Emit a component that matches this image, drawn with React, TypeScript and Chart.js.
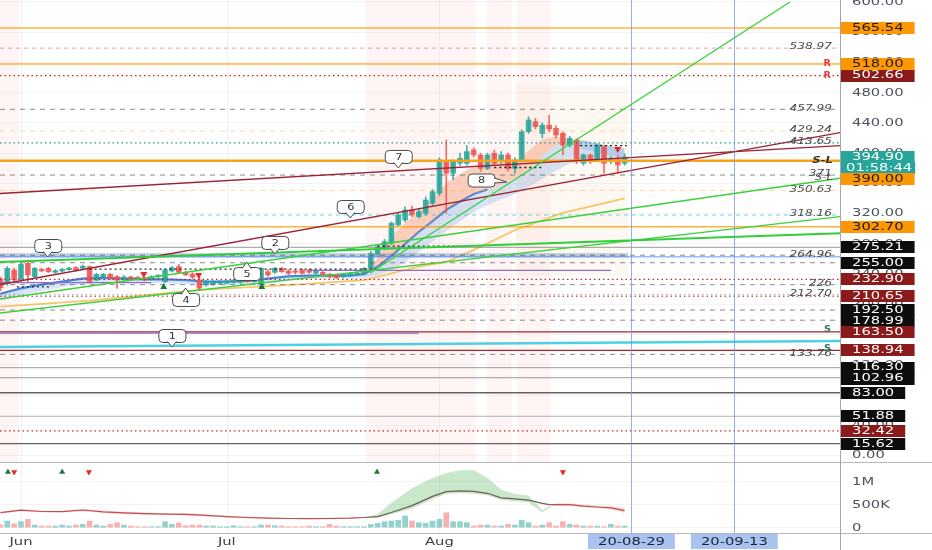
import React, { useEffect, useRef } from "react";
import { Chart, registerables } from "chart.js";

Chart.register(...registerables);

/* ===================== DATA ===================== */
// day index: 0 = 1 Jun; first candle sits at firstDay
const firstDay = -3;
const opens = [234, 228, 245.4, 233.5, 254.2, 236.6, 246.3, 247.6, 242.3, 244, 245.8, 248.5, 247.6, 249.8, 232.2, 236.6, 239.7, 236.6, 233.5, 236.2, 235.7, 235.3, 233.5, 236.6, 230, 244, 249.8, 242, 240, 232.2, 225.6, 226.5, 227.8, 227.8, 229.1, 229.1, 232.2, 230, 225.6, 243.2, 242.3, 247.6, 244.1, 244.1, 245.4, 245.4, 241, 242.3, 239.7, 238.8, 236.6, 237.9, 238.8, 239.7, 247.6, 265.3, 274, 280.7, 305, 311.6, 324.8, 316, 320.4, 333.6, 346.9, 388.8, 373.4, 386.6, 386.6, 404.2, 397.6, 379.9, 399.8, 388.8, 397.6, 379.9, 391, 428.4, 441.7, 426, 437, 432.8, 426.2, 410.7, 417.4, 386.6, 397.6, 391, 408.5, 388.8, 393.2, 386.6];
const highs = [236, 250, 248, 255, 256, 249, 248, 249, 246, 248, 249, 250, 252, 251, 241, 241, 241, 238, 238, 237, 237, 236, 238, 239, 247, 250, 253, 244, 242, 236.6, 232, 231, 231.5, 232, 233, 234, 233, 236, 249, 246, 249, 249, 246, 245, 247, 246, 245, 243.5, 241, 240, 241, 242, 243, 249, 270, 279, 286, 309, 321, 329, 330, 326, 342, 352, 394, 417.4, 391, 400, 410, 407, 400, 400, 404, 402, 400, 394, 431, 448, 446, 440, 450, 436, 428, 422, 419, 399, 399, 412, 410, 396, 397, 399];
const lows = [218, 225, 230, 231, 230, 235, 243, 242, 241, 243, 245, 244, 246, 228, 231, 235, 233, 221, 232, 233, 232, 231, 232, 235, 229, 243, 241, 238, 234, 219, 224, 225, 226, 227, 228, 228, 229, 229, 224, 237, 241, 242, 239, 240, 240, 241, 240, 238, 235, 234, 235, 237, 238, 239, 246, 263, 272, 279, 303, 309, 316, 314, 318, 331, 344, 320.4, 365, 383, 384, 395, 376, 378, 384, 386, 376, 373, 389, 426, 432, 420, 428, 420, 397.6, 408, 386, 384, 386, 389, 373.4, 386, 373.4, 384];
const closes = [222, 247.6, 232.2, 252.9, 238.8, 247.6, 244.1, 243.2, 244.5, 246.3, 248, 245, 250.2, 230, 239.7, 239.7, 234.4, 232.2, 236.2, 234.4, 233, 232.2, 236.6, 237.9, 245.4, 248.5, 242.3, 239, 236, 221.2, 230, 230, 230, 230.9, 232.2, 232.2, 230, 234.4, 247.6, 238.8, 247.6, 243.2, 241, 242.3, 241, 242.3, 244.1, 239.7, 236.6, 235.3, 239.7, 241, 241, 247.6, 267.5, 276.2, 282.9, 307.2, 318.2, 324.8, 318.2, 322.6, 338, 349.1, 391, 373.4, 388.8, 393.2, 402, 397.6, 379.9, 397.6, 386.6, 397.6, 379.9, 391, 428.4, 443.9, 435, 437, 432, 424, 410.7, 419.6, 388.8, 397.6, 388.8, 410.7, 386.6, 393.2, 384.4, 394.9];
// volume, in thousands
const volumesK = [60, 145, 87, 130, 181, 58, 36, 36, 36, 58, 36, 58, 72, 145, 58, 36, 72, 109, 58, 36, 22, 22, 22, 22, 130, 72, 101, 43, 58, 58, 36, 36, 22, 22, 43, 22, 22, 22, 58, 58, 43, 36, 22, 22, 22, 36, 22, 22, 72, 36, 22, 22, 22, 22, 72, 94, 130, 145, 159, 254, 145, 109, 94, 145, 181, 326, 130, 130, 109, 36, 58, 58, 36, 36, 72, 58, 159, 109, 36, 58, 109, 36, 130, 72, 58, 36, 36, 36, 22, 72, 36, 36];

// moving-average ribbons (price pane)
const emaDays = [-3, 0, 3, 6, 9, 12, 15, 18, 21, 24, 27, 30, 33, 36, 39, 42, 45, 48, 50, 52, 54, 56, 58, 60, 62, 64, 66, 68, 70, 72, 74, 76, 78, 80, 82, 84, 86, 88];
const emaMid = [214, 221, 226, 230, 234, 235, 234, 233, 233, 232, 230, 230, 231, 234, 237, 238, 238, 238, 240, 250, 264, 280, 296, 310, 325, 336, 346, 352, 358, 366, 378, 398, 410, 416, 417, 413, 409, 406];
const emaSlow = [205, 212, 218, 223, 227, 229, 229, 228, 228, 227, 226, 226, 226, 228, 231, 233, 234, 234, 235, 238, 245, 256, 270, 283, 297, 310, 322, 331, 339, 346, 355, 366, 377, 386, 390, 392, 393, 393];
const emaFastDays = [48, 50, 52, 54, 56, 58, 60, 62, 64, 66, 68, 70, 72, 74, 76, 78, 80, 82, 84, 86, 88];
const emaFast = [239, 244, 262, 290, 308, 322, 340, 360, 372, 382, 386, 388, 388, 403, 418, 422, 417, 405, 401, 397, 394];
const slowMaDays = [-3, 10, 26, 40, 50, 58, 62, 66, 72, 79, 88];
const slowMa = [197, 205, 219, 226, 232, 250, 256, 272, 298, 321, 340];

// volume pane cloud and average (thousands)
const volCloudDays = [-3, 0, 3, 6, 9, 12, 15, 18, 21, 24, 27, 30, 33, 36, 39, 42, 45, 48, 50, 52, 54, 57, 60, 62, 64, 66, 68, 70, 72, 74, 76, 77, 78, 80, 82, 84, 86, 88];
const volFastK = [305, 355, 335, 335, 360, 320, 295, 280, 275, 265, 250, 222, 207, 196, 188, 186, 188, 195, 218, 290, 540, 860, 1080, 1190, 1250, 1250, 1080, 830, 730, 700, 377, 470, 470, 470, 445, 425, 400, 320];
const volSlowK = [345, 400, 370, 365, 410, 370, 350, 330, 315, 318, 292, 262, 238, 220, 212, 210, 214, 222, 226, 215, 290, 420, 620, 730, 750, 740, 700, 600, 575, 550, 330, 430, 530, 530, 500, 475, 470, 430];
const volAvgK = [327, 380, 352, 350, 385, 345, 322, 305, 295, 290, 270, 242, 222, 208, 200, 198, 200, 208, 222, 240, 330, 480, 680, 785, 800, 790, 748, 650, 625, 600, 530, 500, 500, 500, 470, 450, 430, 370];

// axes
const priceTicks = [0, 40, 80, 120, 160, 200, 240, 280, 320, 360, 400, 440, 480, 520, 560, 600];
const volumeTicks = [0, 500000, 1000000];
const volumeTickLabels = ["0", "500K", "1M"];
const monthTickDays = [0, 30, 61];
const monthTickLabels = ["Jun", "Jul", "Aug"];
const dateLineDays = [89, 104];
const dateLineLabels = ["20-08-29", "20-09-13"];

// right-axis price labels
const axisLabelValues = [565.54, 518.0, 502.66, 394.9, 390.0, 302.7, 275.21, 255.0, 232.9, 210.65, 192.5, 178.99, 163.5, 138.94, 116.3, 102.96, 83.0, 51.88, 32.42, 15.62];
const axisLabelKinds = ["orange", "orange", "darkred", "teal", "orange", "orange", "black", "black", "darkred", "darkred", "black", "black", "darkred", "darkred", "black", "black", "black", "black", "darkred", "black"];
const currentPrice = 394.9;
const countdownText = "01:58:44";

// horizontal levels
const levelValues = [565.54, 538.97, 518.0, 502.66, 457.99, 429.24, 413.65, 390.0, 371, 350.63, 318.16, 302.7, 275.21, 263, 264.96, 255.0, 232.9, 226, 212.7, 210.65, 192.5, 178.99, 163.5, 138.94, 133.76, 116.3, 102.96, 83.0, 51.88, 32.42, 15.62];
const levelStyleKeys = ["orange", "pinkDash", "orange", "redDot", "greyDash", "orangeDash", "tealDot", "orangeThick", "greyDash", "orangeDash", "cyanDash", "orange", "greySolid", "blueSolid", "greyDash", "greyDash", "redDot", "greyDash", "greyDot", "redDot", "greyDash", "greyDash", "darkRed", "darkRed", "greyDash", "greySolid", "greySolid", "darkGrey", "greySolid", "redDot", "darkGrey"];
const bandLevel = 264.96;
const bandDays = [-3.06, 88.5];

// italic level notes
const noteValues = [538.97, 457.99, 429.24, 413.65, 371, 350.63, 318.16, 264.96, 226, 212.7, 133.76];
const noteTexts = ["538.97", "457.99", "429.24", "413.65", "371", "350.63", "318.16", "264.96", "226", "212.70", "133.76"];
const rTagValues = [518.0, 502.66];
const slTagValues = [390.0, 371];
const sTagValues = [163.5, 138.94];

// trend lines: [day1, price1, day2, price2]
const trendLines = [
  [-3.06, 346.5, 119.4, 409.9],
  [-3.06, 226.1, 119.4, 427.1],
  [50.9, 241.4, 112.1, 600],
  [-3.06, 207.0, 119.4, 366.7],
  [-3.06, 188.5, 119.4, 316.0],
  [-3.06, 256.0, 119.4, 294.0],
  [-3.06, 143.5, 119.4, 151.5],
];
const trendStyleKeys = ["maroon", "maroon", "green", "green", "green", "greenThick", "cyan"];

// short horizontal segments: [day1, day2, price]
const segments = [
  [-3.06, 58, 162],
  [-3.06, 19, 228.6],
  [42, 86, 245],
  [10, 52, 246.5],
  [-0.6, 4.2, 223],
  [52, 64, 277],
  [69, 76, 381],
  [81.5, 88.3, 410],
];
const segmentStyleKeys = ["purple", "purple", "purple", "blackDot", "blackDot", "blackDot", "blackDot", "blackDot"];

// signal markers
const priceDownDays = [17.9, 25.9, 87.0];
const priceDownValues = [240.1, 238.8, 405.5];
const priceUpDays = [20.8, 35.1];
const priceUpValues = [222.9, 222.9];
const volUpDays = [-1.9, 6.0, 51.9];
const volDownDays = [-1.0, 9.9, 79.0];
const volMarkerLevel = 1210000;

// callouts
const calloutTexts = ["1", "2", "3", "4", "5", "6", "7", "8"];
const calloutDays = [22.0, 37.0, 3.9, 24.0, 32.9, 48.0, 55.0, 70.8];
const calloutPrices = [143.5, 266.6, 262.6, 221.6, 256.0, 314.2, 380.4, 361.8];
const calloutPointer = ["down", "down", "down", "up", "up", "down", "down", "right"];

// shaded sessions
const shadeBands = [[-3.06, -0.3], [50.3, 66.3], [67.9, 71.5], [72.3, 77.2]];
const beigeDays = [72, 88.6];
const beigePrices = [240, 489];

/* ===================== STYLE ===================== */
const X_MIN = -3.06;
const X_MAX = 119.4;
const Y_MIN = -8.63;
const Y_MAX = 602.6;
const V_MIN = -115000;
const V_MAX = 1428000;
const AXIS_W = 92;
const FONT = "'DejaVu Sans', sans-serif";
const SX = 1.34;
const UP = "rgba(38,166,154,0.85)";
const DOWN = "rgba(239,83,80,0.85)";

const lvlStyle: any = {
  orange: { c: "rgba(255,152,0,0.75)", w: 1.5, d: [] },
  orangeThick: { c: "#f5a31a", w: 2.6, d: [] },
  pinkDash: { c: "rgba(236,64,122,0.55)", w: 1, d: [4, 4] },
  redDot: { c: "#c62828", w: 1.2, d: [1.5, 3] },
  greyDash: { c: "rgba(90,90,90,0.7)", w: 1, d: [5, 5] },
  orangeDash: { c: "rgba(255,167,38,0.45)", w: 1, d: [5, 5] },
  tealDot: { c: "rgba(0,137,123,0.85)", w: 1.2, d: [1.5, 3] },
  cyanDash: { c: "rgba(0,188,212,0.6)", w: 1, d: [4, 4] },
  greySolid: { c: "rgba(120,120,120,0.6)", w: 1.2, d: [] },
  darkGrey: { c: "rgba(60,60,60,0.8)", w: 1.3, d: [] },
  blueSolid: { c: "rgba(66,133,244,0.55)", w: 1.5, d: [] },
  darkRed: { c: "#a4262c", w: 1.2, d: [] },
  greyDot: { c: "rgba(90,90,90,0.6)", w: 1, d: [1.5, 3] },
  maroon: { c: "#9b2335", w: 1.4, d: [] },
  green: { c: "#3ad13a", w: 1.4, d: [] },
  greenThick: { c: "#2fcf3a", w: 2, d: [] },
  cyan: { c: "#4dd0e1", w: 2.6, d: [] },
  purple: { c: "#8e6bbf", w: 1.2, d: [] },
  blackDot: { c: "#222", w: 1.3, d: [2, 3] },
};
const boxFill: any = { orange: "#ff9800", darkred: "#8b1a1a", black: "#0d0d0d", teal: "#26a69a" };
const boxText: any = { orange: "#1b1b1b", darkred: "#ffffff", black: "#ffffff", teal: "#ffffff" };

/* ===================== HELPERS ===================== */
const pts = (days: number[], vals: number[], k = 1) => days.map((d, i) => ({ x: d, y: vals[i] * k }));

function lineDs(data: any[], style: any, extra: any = {}) {
  return {
    type: "line",
    data,
    borderColor: style.c,
    borderWidth: style.w,
    borderDash: style.d,
    pointRadius: 0,
    tension: 0,
    fill: false,
    ...extra,
  };
}

function stretchText(ctx: any, text: string, x: number, y: number, font: string, color: string, align = "left", sx = SX) {
  ctx.save();
  ctx.font = font;
  ctx.fillStyle = color;
  ctx.textBaseline = "middle";
  ctx.textAlign = "left";
  const w = ctx.measureText(text).width * sx;
  let x0 = x;
  if (align === "right") x0 = x - w;
  else if (align === "center") x0 = x - w / 2;
  ctx.translate(x0, y);
  ctx.scale(sx, 1);
  ctx.fillText(text, 0, 0);
  ctx.restore();
  return w;
}

function measure(ctx: any, text: string, font: string, sx = SX) {
  ctx.save();
  ctx.font = font;
  const w = ctx.measureText(text).width * sx;
  ctx.restore();
  return w;
}

function drawCallout(ctx: any, tx: number, ty: number, label: string, side: string) {
  const w = 27, h = 13, pw = 4.5, ph = 5;
  let bx: number, by: number;
  if (side === "down") { bx = tx - w / 2; by = ty - ph - h; }
  else if (side === "up") { bx = tx - w / 2; by = ty + ph; }
  else { bx = tx - 12 - w; by = ty - h / 2 - 2; }
  ctx.save();
  ctx.lineWidth = 1;
  ctx.strokeStyle = "#4a4a4a";
  ctx.fillStyle = "#ffffff";
  ctx.beginPath();
  ctx.roundRect(bx + 0.5, by + 0.5, w, h, 4);
  ctx.fill();
  ctx.stroke();
  ctx.beginPath();
  if (side === "down") {
    ctx.moveTo(tx - pw, by + h - 0.5); ctx.lineTo(tx, ty); ctx.lineTo(tx + pw, by + h - 0.5);
  } else if (side === "up") {
    ctx.moveTo(tx - pw, by + 1.5); ctx.lineTo(tx, ty); ctx.lineTo(tx + pw, by + 1.5);
  } else {
    ctx.moveTo(bx + w - 0.5, by + h / 2 - 2); ctx.lineTo(tx, ty); ctx.lineTo(bx + w - 0.5, by + h / 2 + 3);
  }
  ctx.fill();
  ctx.stroke();
  ctx.restore();
  stretchText(ctx, label, bx + w / 2 + 0.5, by + h / 2 + 1, `9px ${FONT}`, "#333", "center", 1.25);
}

/* ===================== TOP PANE ===================== */
function buildTopConfig() {
  const datasets: any[] = [];
  const push = (ds: any) => { datasets.push(ds); return datasets.length - 1; };

  // ribbons
  const midIdx = push(lineDs(pts(emaDays, emaMid), { c: "#3d7ddb", w: 2.2, d: [] }, {
    segment: { borderColor: (c: any) => (c.p0.parsed.x >= 68 ? "rgba(0,0,0,0)" : "#3d7ddb") },
  }));
  push(lineDs(pts(emaDays, emaSlow), { c: "rgba(0,0,0,0)", w: 0, d: [] }, {
    fill: { target: midIdx, above: "rgba(120,170,230,0.3)", below: "rgba(120,170,230,0.3)" },
  }));
  push(lineDs(pts(emaFastDays, emaFast), { c: "rgba(0,0,0,0)", w: 0, d: [] }, {
    fill: { target: midIdx, above: "rgba(245,150,110,0.42)", below: "rgba(120,170,230,0.35)" },
  }));
  push(lineDs(pts(slowMaDays, slowMa), { c: "#f7c46c", w: 1.8, d: [] }));

  // candles
  const cx = opens.map((_, i) => firstDay + i);
  const colors = opens.map((o, i) => (closes[i] >= o ? UP : DOWN));
  push({
    type: "bar", grouped: false, barThickness: 1,
    data: cx.map((d, i) => ({ x: d, y: [lows[i], highs[i]] })),
    backgroundColor: colors, borderWidth: 0,
  });
  push({
    type: "bar", grouped: false, barThickness: 5, minBarLength: 1.5,
    data: cx.map((d, i) => ({ x: d, y: [opens[i], closes[i]] })),
    backgroundColor: colors, borderWidth: 0,
  });

  // horizontal levels
  push(lineDs([{ x: bandDays[0], y: bandLevel }, { x: bandDays[1], y: bandLevel }], { c: "rgba(110,155,200,0.5)", w: 4, d: [] }));
  levelValues.forEach((v, i) => {
    push(lineDs([{ x: X_MIN, y: v }, { x: X_MAX, y: v }], lvlStyle[levelStyleKeys[i]]));
  });
  segments.forEach((s, i) => {
    push(lineDs([{ x: s[0], y: s[2] }, { x: s[1], y: s[2] }], lvlStyle[segmentStyleKeys[i]]));
  });
  trendLines.forEach((t, i) => {
    push(lineDs([{ x: t[0], y: t[1] }, { x: t[2], y: t[3] }], lvlStyle[trendStyleKeys[i]]));
  });

  // markers
  push({
    type: "line", showLine: false, data: pts(priceDownDays, priceDownValues),
    pointStyle: "triangle", rotation: 180, pointRadius: 4, backgroundColor: "#e8262b", borderColor: "#e8262b", borderWidth: 0,
  });
  push({
    type: "line", showLine: false, data: pts(priceUpDays, priceUpValues),
    pointStyle: "triangle", pointRadius: 4, backgroundColor: "#1b7a2f", borderColor: "#1b7a2f", borderWidth: 0,
  });

  const N = datasets.length;
  datasets.forEach((d, i) => (d.order = N - i));

  const plugin = {
    id: "topDecor",
    beforeDatasetsDraw(chart: any) {
      const { ctx, chartArea: a, scales } = chart;
      const x = scales.x, y = scales.y;
      ctx.save();
      ctx.fillStyle = "rgba(255,82,82,0.06)";
      shadeBands.forEach((b) => {
        const x0 = x.getPixelForValue(b[0]), x1 = x.getPixelForValue(b[1]);
        ctx.fillRect(x0, a.top, x1 - x0, a.bottom - a.top);
      });
      ctx.fillStyle = "rgba(245,225,195,0.22)";
      const bx0 = x.getPixelForValue(beigeDays[0]), bx1 = x.getPixelForValue(beigeDays[1]);
      const by0 = y.getPixelForValue(beigePrices[1]), by1 = y.getPixelForValue(beigePrices[0]);
      ctx.fillRect(bx0, by0, bx1 - bx0, by1 - by0);
      ctx.strokeStyle = "rgba(0,0,0,0.05)";
      ctx.lineWidth = 1;
      monthTickDays.forEach((d) => {
        const px = Math.round(x.getPixelForValue(d)) + 0.5;
        ctx.beginPath(); ctx.moveTo(px, a.top); ctx.lineTo(px, a.bottom); ctx.stroke();
      });
      ctx.restore();
    },
    afterDatasetsDraw(chart: any) {
      const { ctx, chartArea: a, scales } = chart;
      ctx.save();
      ctx.strokeStyle = "rgba(110,150,225,0.75)";
      ctx.lineWidth = 1;
      dateLineDays.forEach((d) => {
        const px = Math.round(scales.x.getPixelForValue(d)) + 0.5;
        ctx.beginPath(); ctx.moveTo(px, a.top); ctx.lineTo(px, a.bottom); ctx.stroke();
      });
      ctx.restore();
    },
    afterDraw(chart: any) {
      const { ctx, chartArea: a, scales } = chart;
      const x = scales.x, y = scales.y;
      const noteFont = `italic 9px ${FONT}`;
      noteValues.forEach((v, i) => {
        stretchText(ctx, noteTexts[i], 832, y.getPixelForValue(v) - 1, noteFont, "#4a4a4a", "right", 1.35);
      });
      rTagValues.forEach((v) => stretchText(ctx, "R", 831, y.getPixelForValue(v), `bold 8px ${FONT}`, "#e53935", "right", 1.2));
      stretchText(ctx, "S-L", 833, y.getPixelForValue(slTagValues[0]) - 0.5, `italic bold 9px ${FONT}`, "#333", "right", 1.3);
      stretchText(ctx, "S-L", 833, y.getPixelForValue(slTagValues[1]) + 3, `italic 9px ${FONT}`, "#4a4a4a", "right", 1.3);
      sTagValues.forEach((v) => stretchText(ctx, "S", 831, y.getPixelForValue(v) - 1.5, `bold 8px ${FONT}`, "#2e7d5b", "right", 1.2));
      calloutTexts.forEach((t, i) => {
        drawCallout(ctx, x.getPixelForValue(calloutDays[i]), y.getPixelForValue(calloutPrices[i]), t, calloutPointer[i]);
      });
      ctx.save();
      ctx.strokeStyle = "#a3a6ad";
      ctx.lineWidth = 1;
      ctx.beginPath(); ctx.moveTo(a.right + 0.5, 0); ctx.lineTo(a.right + 0.5, chart.height); ctx.stroke();
      ctx.restore();
      const tickFont = `11px ${FONT}`;
      priceTicks.forEach((v) => {
        stretchText(ctx, v.toFixed(2), a.right + 12, y.getPixelForValue(v), tickFont, "#4c525e", "left");
      });
      let prevBottom = -Infinity;
      const half = 5.5;
      const drawBox = (yc: number, text: string, kind: string, textX: number, padR: number) => {
        const tw = measure(ctx, text, tickFont);
        const left = a.right + 1;
        const right = textX + tw + padR;
        ctx.save();
        ctx.fillStyle = boxFill[kind];
        ctx.fillRect(left, Math.round(yc - 6), right - left, 12);
        ctx.restore();
        stretchText(ctx, text, textX, yc, tickFont, boxText[kind], "left");
      };
      axisLabelValues.forEach((v, i) => {
        let yc = y.getPixelForValue(v);
        if (yc - half < prevBottom) yc = prevBottom + half;
        drawBox(yc, v.toFixed(2), axisLabelKinds[i], a.right + 12, 11);
        prevBottom = yc + half;
        if (v === currentPrice) {
          const yc2 = prevBottom + half;
          drawBox(yc2, countdownText, "teal", a.right + 6, 3);
          prevBottom = yc2 + half;
        }
      });
    },
  };

  return {
    type: "bar",
    data: { datasets },
    plugins: [plugin],
    options: {
      responsive: true,
      maintainAspectRatio: false,
      animation: false,
      events: [],
      layout: { padding: 0, autoPadding: false },
      plugins: { legend: { display: false }, tooltip: { enabled: false } },
      scales: {
        x: { type: "linear", min: X_MIN, max: X_MAX, display: false, offset: false },
        y: {
          type: "linear", position: "right", min: Y_MIN, max: Y_MAX,
          afterBuildTicks: (s: any) => { s.ticks = priceTicks.map((v) => ({ value: v })); },
          afterFit: (s: any) => { s.width = AXIS_W; },
          ticks: { display: false },
          grid: { drawTicks: false, color: "rgba(42,46,57,0.05)" },
          border: { display: false },
        },
      },
    },
  };
}

/* ===================== VOLUME PANE ===================== */
function buildBottomConfig() {
  const datasets: any[] = [];
  const push = (ds: any) => { datasets.push(ds); return datasets.length - 1; };
  const slowIdx = push(lineDs(pts(volCloudDays, volSlowK, 1000), { c: "rgba(0,0,0,0)", w: 0, d: [] }));
  push(lineDs(pts(volCloudDays, volFastK, 1000), { c: "rgba(0,0,0,0)", w: 0, d: [] }, {
    fill: { target: slowIdx, above: "rgba(76,175,80,0.3)", below: "rgba(239,83,80,0.22)" },
  }));
  push(lineDs(pts(volCloudDays, volAvgK, 1000), { c: "#b9524e", w: 1.2, d: [] }, {
    segment: { borderColor: (c: any) => (c.p0.parsed.x >= 50 && c.p0.parsed.x < 77 ? "#6d6250" : "#c0504d") },
  }));
  const cx = opens.map((_, i) => firstDay + i);
  push({
    type: "bar", grouped: false, barThickness: 5,
    data: cx.map((d, i) => ({ x: d, y: volumesK[i] * 1000 })),
    backgroundColor: opens.map((o, i) => (closes[i] >= o ? "rgba(38,166,154,0.5)" : "rgba(239,83,80,0.45)")),
    borderWidth: 0,
  });
  push({
    type: "line", showLine: false, data: volUpDays.map((d) => ({ x: d, y: volMarkerLevel })),
    pointStyle: "triangle", pointRadius: 3.5, backgroundColor: "#1b7a2f", borderWidth: 0,
  });
  push({
    type: "line", showLine: false, data: volDownDays.map((d) => ({ x: d, y: volMarkerLevel })),
    pointStyle: "triangle", rotation: 180, pointRadius: 3.5, backgroundColor: "#e8262b", borderWidth: 0,
  });
  const N = datasets.length;
  datasets.forEach((d, i) => (d.order = N - i));

  const plugin = {
    id: "botDecor",
    beforeDatasetsDraw(chart: any) {
      const { ctx, chartArea: a, scales } = chart;
      ctx.save();
      ctx.strokeStyle = "rgba(0,0,0,0.05)";
      ctx.lineWidth = 1;
      monthTickDays.forEach((d) => {
        const px = Math.round(scales.x.getPixelForValue(d)) + 0.5;
        ctx.beginPath(); ctx.moveTo(px, a.top); ctx.lineTo(px, a.bottom); ctx.stroke();
      });
      ctx.restore();
    },
    afterDatasetsDraw(chart: any) {
      const { ctx, chartArea: a, scales } = chart;
      ctx.save();
      ctx.strokeStyle = "rgba(110,150,225,0.75)";
      ctx.lineWidth = 1;
      dateLineDays.forEach((d) => {
        const px = Math.round(scales.x.getPixelForValue(d)) + 0.5;
        ctx.beginPath(); ctx.moveTo(px, a.top); ctx.lineTo(px, a.bottom); ctx.stroke();
      });
      ctx.restore();
    },
    afterDraw(chart: any) {
      const { ctx, chartArea: a, scales } = chart;
      const x = scales.x, y = scales.y;
      const font = `11px ${FONT}`;
      ctx.save();
      ctx.strokeStyle = "#b4b7bd";
      ctx.lineWidth = 1;
      ctx.beginPath(); ctx.moveTo(0, 0.5); ctx.lineTo(chart.width, 0.5); ctx.stroke();
      ctx.beginPath(); ctx.moveTo(0, a.bottom + 0.5); ctx.lineTo(chart.width, a.bottom + 0.5); ctx.stroke();
      ctx.strokeStyle = "#a3a6ad";
      ctx.beginPath(); ctx.moveTo(a.right + 0.5, 0); ctx.lineTo(a.right + 0.5, chart.height); ctx.stroke();
      ctx.restore();
      volumeTicks.forEach((v, i) => {
        stretchText(ctx, volumeTickLabels[i], a.right + 12, y.getPixelForValue(v), font, "#4c525e", "left");
      });
      const ty = a.bottom + (chart.height - a.bottom) / 2 + 0.5;
      monthTickDays.forEach((d, i) => {
        stretchText(ctx, monthTickLabels[i], x.getPixelForValue(d), ty, font, "#3b3f47", "center");
      });
      dateLineDays.forEach((d, i) => {
        const px = x.getPixelForValue(d);
        const tw = measure(ctx, dateLineLabels[i], font);
        const bw = tw + 20;
        ctx.save();
        ctx.fillStyle = "#a9c3f0";
        ctx.fillRect(px - bw / 2, a.bottom + 1, bw, chart.height - a.bottom - 2);
        ctx.restore();
        stretchText(ctx, dateLineLabels[i], px, ty, font, "#1c2333", "center");
      });
    },
  };

  return {
    type: "bar",
    data: { datasets },
    plugins: [plugin],
    options: {
      responsive: true,
      maintainAspectRatio: false,
      animation: false,
      events: [],
      layout: { padding: { left: 0, right: 0, top: 0, bottom: 17 }, autoPadding: false },
      plugins: { legend: { display: false }, tooltip: { enabled: false } },
      scales: {
        x: { type: "linear", min: X_MIN, max: X_MAX, display: false, offset: false },
        y: {
          type: "linear", position: "right", min: V_MIN, max: V_MAX,
          afterBuildTicks: (s: any) => { s.ticks = volumeTicks.map((v) => ({ value: v })); },
          afterFit: (s: any) => { s.width = AXIS_W; },
          ticks: { display: false },
          grid: { drawTicks: false, color: "rgba(42,46,57,0.05)" },
          border: { display: false },
        },
      },
    },
  };
}

/* ===================== APP ===================== */
export default function App() {
  const topRef = useRef<HTMLCanvasElement>(null);
  const botRef = useRef<HTMLCanvasElement>(null);
  useEffect(() => {
    Chart.defaults.font.family = FONT;
    const top = new Chart(topRef.current as any, buildTopConfig() as any);
    const bot = new Chart(botRef.current as any, buildBottomConfig() as any);
    return () => {
      top.destroy();
      bot.destroy();
    };
  }, []);
  return (
    <div style={{ position: "fixed", left: 0, top: 0, width: 932, height: 550, background: "#ffffff", overflow: "hidden" }}>
      <div style={{ position: "absolute", left: 0, top: 0, width: 932, height: 462 }}>
        <canvas ref={topRef} />
      </div>
      <div style={{ position: "absolute", left: 0, top: 462, width: 932, height: 88 }}>
        <canvas ref={botRef} />
      </div>
    </div>
  );
}
